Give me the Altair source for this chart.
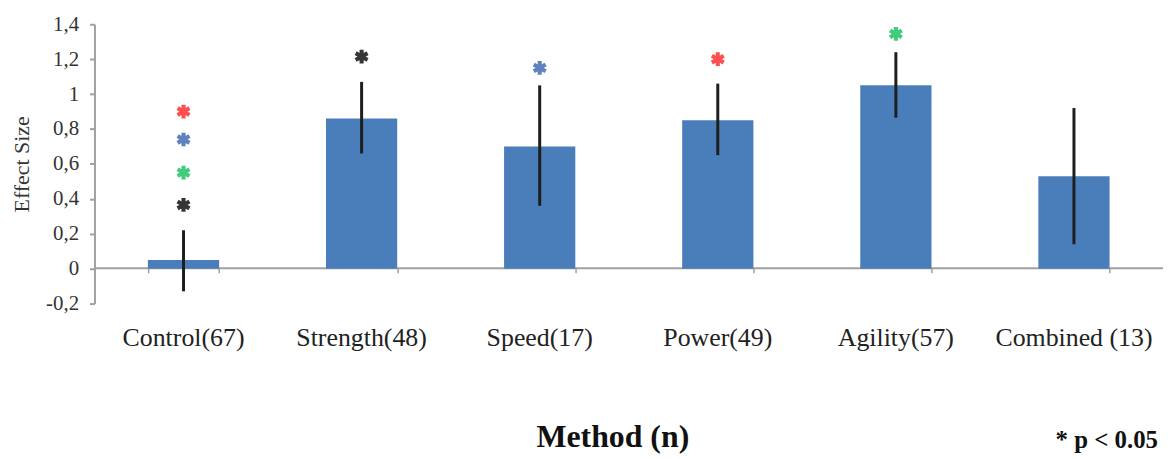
import altair as alt
import pandas as pd

# ---- data ----
methods = ["Control(67)", "Strength(48)", "Speed(17)", "Power(49)", "Agility(57)", "Combined (13)"]
effect = [0.05, 0.86, 0.70, 0.85, 1.05, 0.53]
ci_low = [-0.13, 0.66, 0.36, 0.65, 0.865, 0.14]
ci_high = [0.22, 1.07, 1.05, 1.06, 1.24, 0.92]

star_method = ["Control(67)", "Control(67)", "Control(67)", "Control(67)",
               "Strength(48)", "Speed(17)", "Power(49)", "Agility(57)"]
star_y = [0.90, 0.74, 0.55, 0.365, 1.215, 1.15, 1.20, 1.345]
star_group = ["red", "blue", "green", "black", "black", "blue", "red", "green"]
star_groups = ["red", "blue", "green", "black"]
star_colors = ["#ff4f4f", "#5f82bf", "#40cc7a", "#353535"]

y_ticks = [-0.2, 0, 0.2, 0.4, 0.6, 0.8, 1, 1.2, 1.4]
note_text = ["* p < 0.05"]

df = pd.DataFrame({"method": methods, "effect": effect, "lo": ci_low, "hi": ci_high})
stars = pd.DataFrame({"method": star_method, "y": star_y, "grp": star_group})
note = pd.DataFrame({"note": note_text})

FONT = "Liberation Serif"
AXIS_GRAY = "#a0a0a0"

xscale = alt.Scale(domain=methods, paddingInner=0.6, paddingOuter=0.3)
yscale = alt.Scale(domain=[-0.2, 1.4], nice=False, zero=False)

yaxis = alt.Axis(
    values=y_ticks, labelExpr="replace(toString(datum.value), '.', ',')",
    title="Effect Size", titleFont=FONT, titleFontSize=22, titleFontWeight="normal",
    titleColor="#333333", titleX=-73, titleBaseline="middle",
    labelFont=FONT, labelFontSize=21, labelColor="#333333", labelPadding=11,
    grid=False, domainColor=AXIS_GRAY, domainWidth=2, tickColor=AXIS_GRAY,
    tickWidth=2, tickSize=5,
)

# bars with the category axis line drawn at y = 0
bars = alt.Chart(df).mark_bar(color="#4a7ebb").encode(
    x=alt.X("method:N", sort=methods, scale=xscale,
            axis=alt.Axis(orient="bottom", offset=-36, labels=False, title=None,
                          domainColor=AXIS_GRAY, domainWidth=2, tickColor=AXIS_GRAY,
                          tickWidth=1.5, tickSize=5, tickBand="extent", grid=False)),
    y=alt.Y("effect:Q", scale=yscale, axis=yaxis),
)

errs = alt.Chart(df).mark_rule(color="#1e1e1e", strokeWidth=3).encode(
    x=alt.X("method:N", sort=methods, scale=xscale,
            axis=alt.Axis(orient="bottom", domain=False, ticks=False, tickSize=0,
                          labelAngle=0, labelFont=FONT, labelFontSize=26,
                          labelColor="#222222", labelBaseline="alphabetic",
                          labelPadding=42,
                          title="Method (n)", titleFont=FONT, titleFontSize=32,
                          titleFontWeight="bold", titleColor="#111111",
                          titleBaseline="alphabetic", titleY=144, titleX=521)),
    y=alt.Y("lo:Q", scale=yscale, axis=yaxis),
    y2="hi:Q",
)

star_path = ("M0.3,1L-0.3,1L-0.3,-1L0.3,-1Z"
             "M0.716,0.76L-1.016,-0.24L-0.716,-0.76L1.016,0.24Z"
             "M1.016,-0.24L-0.716,0.76L-1.016,0.24L0.716,-0.76Z")

star_marks = alt.Chart(stars).mark_point(shape=star_path, filled=True, size=190, opacity=1).encode(
    x=alt.X("method:N", sort=methods, scale=xscale, axis=None),
    y=alt.Y("y:Q", scale=yscale, axis=yaxis),
    color=alt.Color("grp:N", scale=alt.Scale(domain=star_groups, range=star_colors), legend=None),
)

note_mark = alt.Chart(note).mark_text(
    font=FONT, fontSize=25, fontWeight="bold", align="right", baseline="alphabetic", color="#111111"
).encode(text="note:N", x=alt.value(1070), y=alt.value(426))

chart = alt.layer(bars, errs, star_marks, note_mark).resolve_axis(x="independent").properties(
    width=1075, height=281,
    autosize=alt.AutoSizeParams(type="none"),
    padding={"left": 87, "top": 15, "right": 0, "bottom": 153},
).configure_view(stroke=None)

chart.save("out.html", embed_options={"renderer": "svg", "actions": False})
